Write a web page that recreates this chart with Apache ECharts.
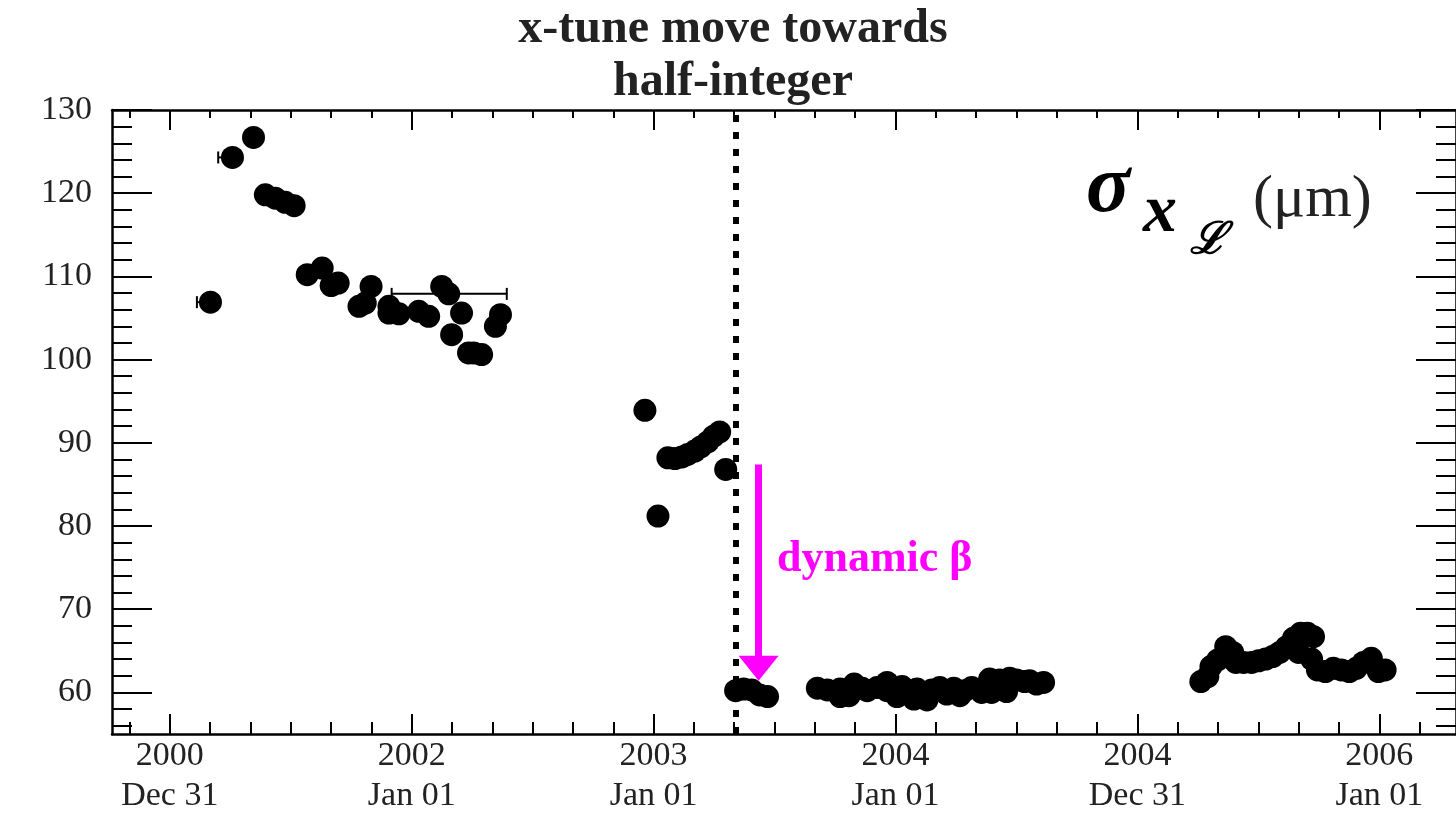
<!DOCTYPE html>
<html>
<head>
<meta charset="utf-8">
<title>sigma x lumi</title>
<script src="https://cdn.jsdelivr.net/npm/echarts@6.0.0/dist/echarts.min.js"></script>
<style>
  html, body { margin: 0; padding: 0; background: #fff; }
  #chart { width: 1456px; height: 816px; }
</style>
</head>
<body>
<div id="chart"></div>
<script>
// x values are in "year units": 2001 = the "2000 Dec 31" tick, 2002 = "2002 Jan 01", ...
const xMajorTicks = [2001, 2002, 2003, 2004, 2005, 2006];
const xTickLabels = ["2000\nDec 31", "2002\nJan 01", "2003\nJan 01", "2004\nJan 01", "2004\nDec 31", "2006\nJan 01"];
const yMajorTicks = [60, 70, 80, 90, 100, 110, 120, 130];

const X_MIN = 2000.761;
const X_MAX = 2006.317;
const Y_MIN = 55;
const Y_MAX = 130;

// [date, sigma_x (um)]
const run2001 = [
  [2001.168, 106.9], [2001.259, 124.3], [2001.346, 126.7], [2001.395, 119.8],
  [2001.436, 119.4], [2001.477, 118.9], [2001.514, 118.5], [2001.568, 110.2],
  [2001.630, 111.0], [2001.667, 108.9], [2001.696, 109.2], [2001.782, 106.4],
  [2001.808, 106.8], [2001.832, 108.8], [2001.906, 106.4], [2001.906, 105.6],
  [2001.947, 105.5], [2002.029, 105.8], [2002.070, 105.2], [2002.124, 108.8],
  [2002.153, 107.9], [2002.165, 103.0], [2002.206, 105.6], [2002.235, 100.8],
  [2002.256, 100.8], [2002.289, 100.6], [2002.346, 104.0], [2002.367, 105.4]
];
const run2003a = [
  [2002.964, 93.9], [2003.018, 81.2], [2003.059, 88.2], [2003.088, 88.1],
  [2003.117, 88.3], [2003.141, 88.6], [2003.170, 89.0], [2003.195, 89.5],
  [2003.224, 90.1], [2003.248, 90.8], [2003.273, 91.3], [2003.298, 86.8]
];
const run2003b = [
  [2003.339, 60.2], [2003.372, 60.4], [2003.405, 60.3], [2003.438, 59.7],
  [2003.471, 59.5]
];
const run2004 = [
  [2003.677, 60.5], [2003.718, 60.3], [2003.771, 60.4], [2003.771, 59.5],
  [2003.808, 59.6], [2003.829, 61.0], [2003.862, 60.5], [2003.883, 60.2],
  [2003.924, 60.6], [2003.965, 61.2], [2003.965, 60.2], [2004.006, 59.5],
  [2004.027, 60.7], [2004.076, 59.2], [2004.089, 60.4], [2004.130, 59.1],
  [2004.150, 60.3], [2004.183, 60.6], [2004.212, 59.8], [2004.241, 60.5],
  [2004.266, 59.6], [2004.286, 60.2], [2004.315, 60.6], [2004.356, 60.0],
  [2004.389, 61.6], [2004.397, 60.0], [2004.430, 61.5], [2004.459, 60.1],
  [2004.472, 61.7], [2004.500, 61.5], [2004.533, 61.3], [2004.554, 61.4],
  [2004.583, 61.0], [2004.612, 61.2]
];
const run2005 = [
  [2005.262, 61.3], [2005.291, 61.9], [2005.304, 63.1], [2005.332, 63.9],
  [2005.365, 65.5], [2005.394, 64.8], [2005.407, 63.6], [2005.439, 63.6],
  [2005.472, 63.6], [2005.501, 63.8], [2005.530, 64.0], [2005.559, 64.3],
  [2005.588, 64.8], [2005.617, 65.5], [2005.645, 66.5], [2005.666, 64.8],
  [2005.674, 67.1], [2005.703, 67.1], [2005.720, 64.0], [2005.728, 66.7],
  [2005.744, 62.7], [2005.777, 62.5], [2005.810, 62.9], [2005.843, 62.7],
  [2005.876, 62.5], [2005.905, 62.9], [2005.934, 63.6], [2005.967, 64.1],
  [2005.996, 62.5], [2006.024, 62.7]
];
// [date, sigma, low date, high date]
const errorBars = [
  [2001.168, 106.9, 2001.112, 2001.190],
  [2001.259, 124.3, 2001.200, 2001.280],
  [2002.153, 107.9, 2001.917, 2002.393]
];

const tuneMoveDate = 2003.335;
const betaArrow = { x: 2003.434, from: 87.4, to: 62.9 };

// minor tick positions (axis decoration)
const xMinorTicks = [];
for (let yr = 2000; yr <= 2006; yr++) {
  for (let j = 1; j < 6; j++) {
    const v = yr + j / 6;
    if (v > X_MIN && v < X_MAX) xMinorTicks.push(v);
  }
}
const yMinorTicks = [];
for (let v = 56; v < Y_MAX; v += 2) {
  if (v % 10 !== 0) yMinorTicks.push(v);
}

const SERIF = '"Liberation Serif", "DejaVu Serif", serif';
const tickStyle = { color: "#000", width: 2 };

function xAxisCfg(position, ticks, len, showLine, showLabel) {
  return {
    type: "value",
    position,
    min: X_MIN,
    max: X_MAX,
    axisLine: { show: showLine, onZero: false, lineStyle: { color: "#000", width: 2.5 } },
    axisTick: { show: true, inside: true, length: len, customValues: ticks, lineStyle: tickStyle },
    axisLabel: showLabel
      ? {
          show: true,
          customValues: xMajorTicks,
          formatter: (v) => xTickLabels[xMajorTicks.indexOf(Math.round(v))] || "",
          fontFamily: SERIF,
          fontSize: 34,
          lineHeight: 40,
          color: "#222",
          margin: 2,
        }
      : { show: false },
    splitLine: { show: false },
  };
}

function yAxisCfg(position, ticks, len, showLine, showLabel) {
  return {
    type: "value",
    position,
    min: Y_MIN,
    max: Y_MAX,
    axisLine: { show: showLine, onZero: false, lineStyle: { color: "#000", width: 2.5 } },
    axisTick: { show: true, inside: true, length: len, customValues: ticks, lineStyle: tickStyle },
    axisLabel: showLabel
      ? {
          show: true,
          customValues: yMajorTicks,
          fontFamily: SERIF,
          fontSize: 34,
          color: "#222",
          margin: 20,
        }
      : { show: false },
    splitLine: { show: false },
  };
}

function scatter(data) {
  return {
    type: "scatter",
    data,
    symbol: "circle",
    symbolSize: 23,
    itemStyle: { color: "#000", opacity: 1 },
    z: 3,
  };
}

const chart = echarts.init(document.getElementById("chart"), null, { renderer: "canvas" });

chart.setOption({
  animation: false,
  backgroundColor: "#fff",
  title: {
    text: "x-tune move towards\nhalf-integer",
    left: 733,
    top: 3,
    textAlign: "center",
    padding: 0,
    textStyle: {
      fontFamily: SERIF,
      fontSize: 48,
      fontWeight: "bold",
      lineHeight: 53,
      color: "#222",
    },
  },
  grid: { left: 112, right: -5, top: 110, bottom: 75, containLabel: false },
  xAxis: [
    xAxisCfg("bottom", xMajorTicks, 20, true, true),
    xAxisCfg("bottom", xMinorTicks, 12, false, false),
    xAxisCfg("top", xMajorTicks, 20, true, false),
    xAxisCfg("top", xMinorTicks, 8, false, false),
  ],
  yAxis: [
    yAxisCfg("left", yMajorTicks, 40, true, true),
    yAxisCfg("left", yMinorTicks, 20, false, false),
    yAxisCfg("right", yMajorTicks, 40, true, false),
    yAxisCfg("right", yMinorTicks, 20, false, false),
  ],
  series: [
    {
      type: "custom",
      data: errorBars,
      encode: { x: [0, 2, 3], y: 1 },
      z: 2,
      renderItem(params, api) {
        const y = api.value(1);
        const lo = api.coord([api.value(2), y]);
        const hi = api.coord([api.value(3), y]);
        const cap = 6;
        const style = { stroke: "#000", lineWidth: 2 };
        return {
          type: "group",
          children: [
            { type: "line", shape: { x1: lo[0], y1: lo[1], x2: hi[0], y2: hi[1] }, style },
            { type: "line", shape: { x1: lo[0], y1: lo[1] - cap, x2: lo[0], y2: lo[1] + cap }, style },
            { type: "line", shape: { x1: hi[0], y1: hi[1] - cap, x2: hi[0], y2: hi[1] + cap }, style },
          ],
        };
      },
    },
    scatter(run2001),
    scatter(run2003a),
    scatter(run2003b),
    scatter(run2004),
    {
      ...scatter(run2005),
      markLine: {
        silent: true,
        animation: false,
        z: 5,
        label: { show: false },
        symbol: ["none", "none"],
        data: [
          {
            xAxis: tuneMoveDate,
            symbol: "none",
            lineStyle: { color: "#000", width: 6, type: [7, 10] },
          },
          [
            {
              coord: [betaArrow.x, betaArrow.from],
              symbol: "none",
              lineStyle: { color: "#ff00ff", width: 7, type: "solid" },
            },
            {
              coord: [betaArrow.x, betaArrow.to],
              symbol: "triangle",
              symbolSize: [40, 25],
            },
          ],
        ],
      },
    },
  ],
  graphic: [
    {
      type: "text",
      x: 777,
      y: 560,
      style: {
        text: "dynamic β",
        fontFamily: SERIF,
        fontSize: 44,
        fontWeight: "bold",
        fill: "#ff00ff",
        align: "left",
        verticalAlign: "middle",
      },
    },
    {
      type: "text",
      x: 1108,
      y: 190,
      style: {
        text: "σ",
        fontFamily: SERIF,
        fontSize: 82,
        fontWeight: "bold",
        fontStyle: "italic",
        fill: "#000",
        align: "center",
        verticalAlign: "middle",
      },
    },
    {
      type: "text",
      x: 1160,
      y: 213,
      style: {
        text: "x",
        fontFamily: SERIF,
        fontSize: 68,
        fontWeight: "bold",
        fontStyle: "italic",
        fill: "#000",
        align: "center",
        verticalAlign: "middle",
      },
    },
    {
      type: "text",
      x: 1208,
      y: 242,
      style: {
        text: "ℒ",
        fontFamily: SERIF,
        fontSize: 44,
        fontWeight: "bold",
        fontStyle: "italic",
        fill: "#000",
        align: "center",
        verticalAlign: "middle",
      },
    },
    {
      type: "text",
      x: 1253,
      y: 200,
      style: {
        text: "(μm)",
        fontFamily: SERIF,
        fontSize: 60,
        fill: "#222",
        align: "left",
        verticalAlign: "middle",
      },
    },
  ],
});
</script>
</body>
</html>
